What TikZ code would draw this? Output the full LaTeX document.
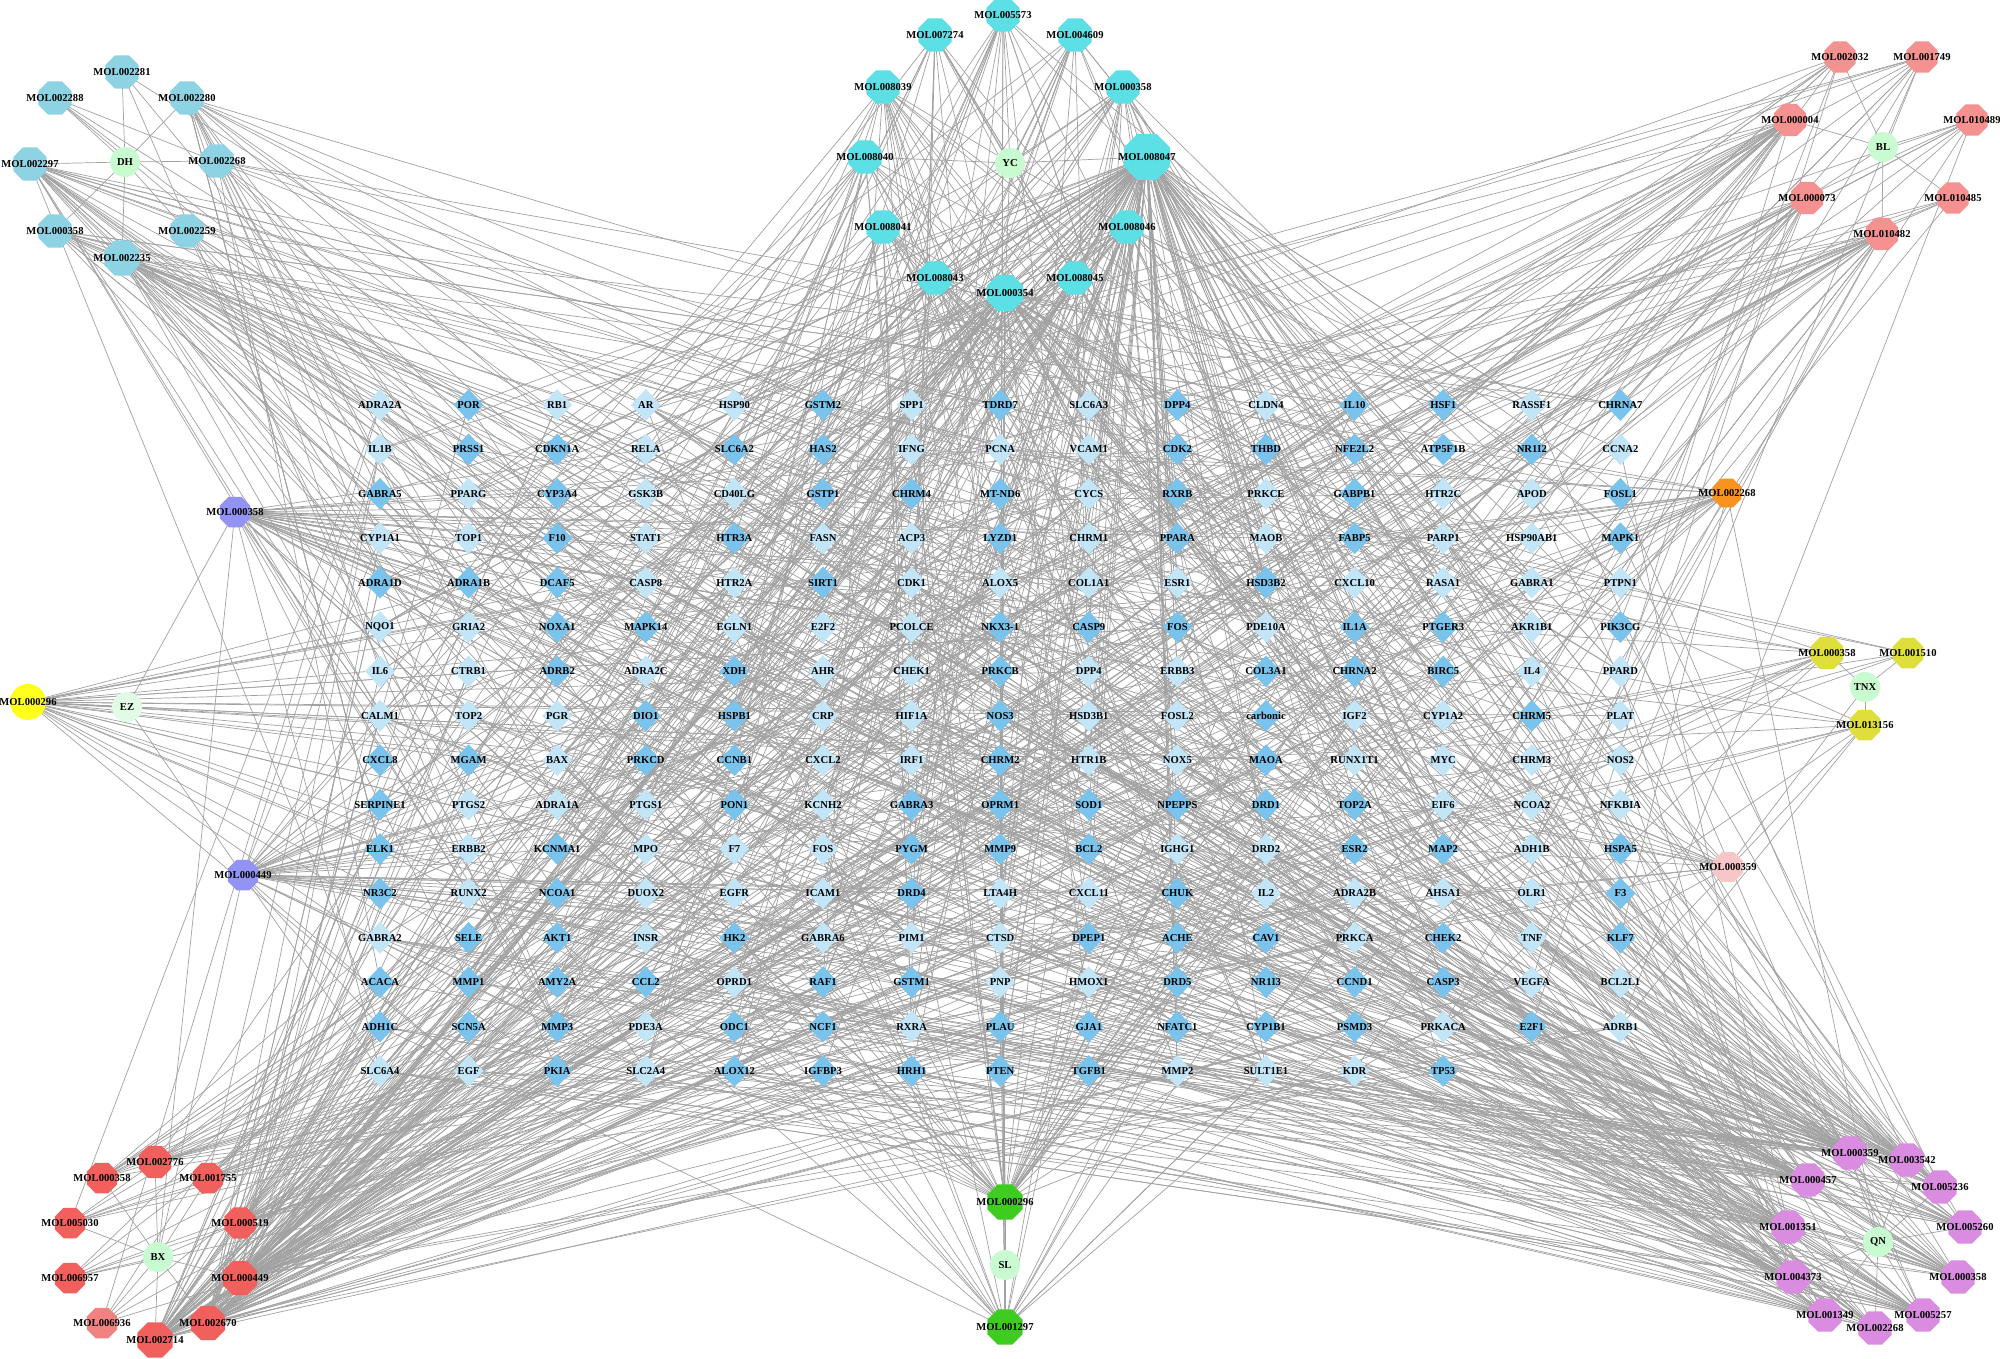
\documentclass[tikz,border=0pt]{standalone}
\usepackage{fontspec}
\setmainfont{Liberation Serif}
\usetikzlibrary{shapes.geometric}
\pgfdeclarelayer{bgl}
\pgfdeclarelayer{edges}
\pgfsetlayers{bgl,edges,main}
\definecolor{dkb}{HTML}{79C3EC}
\definecolor{ltb}{HTML}{C2E5F7}
\definecolor{herbc}{HTML}{C9FBD0}
\definecolor{herbf}{HTML}{E2FBE6}
\definecolor{tlc}{HTML}{8ED3E4}
\definecolor{cyc}{HTML}{5CE0E5}
\definecolor{salc}{HTML}{F59190}
\definecolor{purc}{HTML}{9393F5}
\definecolor{yelc}{HTML}{FFFF1E}
\definecolor{orc}{HTML}{F7931E}
\definecolor{olc}{HTML}{DEDE3C}
\definecolor{pkc}{HTML}{F8C6C8}
\definecolor{redc}{HTML}{F2605E}
\definecolor{redl}{HTML}{F08282}
\definecolor{grc}{HTML}{3FCC20}
\definecolor{vic}{HTML}{DA8DE0}
\definecolor{edgec}{HTML}{A2A2A2}
\tikzset{
  lbl/.style={font=\fontsize{10.6}{12}\selectfont\bfseries, inner sep=0pt, text=black},
  octn/.style={regular polygon, regular polygon sides=8, inner sep=0pt, draw=none},
  herbn/.style={circle, inner sep=0pt, minimum size=30pt, draw=none, fill=herbc},
  tgt/.style={diamond, inner sep=0pt, minimum width=30pt, minimum height=32pt, draw=none},
  edge/.style={draw=edgec, line width=0.7pt}
}
\newcommand\mylabellist{}
\newcommand\molnode[6]{%
  \node[octn, fill=#4, minimum size=#5] (#1) at (#2,#3) {};%
  \expandafter\gdef\expandafter\mylabellist\expandafter{\mylabellist\node[lbl] at (#1) {#6};}}
\newcommand\herbnode[5]{%
  \node[herbn, fill=#4] (#1) at (#2,#3) {};%
  \expandafter\gdef\expandafter\mylabellist\expandafter{\mylabellist\node[lbl] at (#1) {#5};}}
\newcommand\tgtlist{
ADRA2A,POR,RB1,AR,HSP90,GSTM2,SPP1,TDRD7,SLC6A3,DPP4,CLDN4,IL10,HSF1,RASSF1,CHRNA7,
IL1B,PRSS1,CDKN1A,RELA,SLC6A2,HAS2,IFNG,PCNA,VCAM1,CDK2,THBD,NFE2L2,ATP5F1B,NR1I2,CCNA2,
GABRA5,PPARG,CYP3A4,GSK3B,CD40LG,GSTP1,CHRM4,MT-ND6,CYCS,RXRB,PRKCE,GABPB1,HTR2C,APOD,FOSL1,
CYP1A1,TOP1,F10,STAT1,HTR3A,FASN,ACP3,LYZD1,CHRM1,PPARA,MAOB,FABP5,PARP1,HSP90AB1,MAPK1,
ADRA1D,ADRA1B,DCAF5,CASP8,HTR2A,SIRT1,CDK1,ALOX5,COL1A1,ESR1,HSD3B2,CXCL10,RASA1,GABRA1,PTPN1,
NQO1,GRIA2,NOXA1,MAPK14,EGLN1,E2F2,PCOLCE,NKX3-1,CASP9,FOS,PDE10A,IL1A,PTGER3,AKR1B1,PIK3CG,
IL6,CTRB1,ADRB2,ADRA2C,XDH,AHR,CHEK1,PRKCB,DPP4,ERBB3,COL3A1,CHRNA2,BIRC5,IL4,PPARD,
CALM1,TOP2,PGR,DIO1,HSPB1,CRP,HIF1A,NOS3,HSD3B1,FOSL2,carbonic,IGF2,CYP1A2,CHRM5,PLAT,
CXCL8,MGAM,BAX,PRKCD,CCNB1,CXCL2,IRF1,CHRM2,HTR1B,NOX5,MAOA,RUNX1T1,MYC,CHRM3,NOS2,
SERPINE1,PTGS2,ADRA1A,PTGS1,PON1,KCNH2,GABRA3,OPRM1,SOD1,NPEPPS,DRD1,TOP2A,EIF6,NCOA2,NFKBIA,
ELK1,ERBB2,KCNMA1,MPO,F7,FOS,PYGM,MMP9,BCL2,IGHG1,DRD2,ESR2,MAP2,ADH1B,HSPA5,
NR3C2,RUNX2,NCOA1,DUOX2,EGFR,ICAM1,DRD4,LTA4H,CXCL11,CHUK,IL2,ADRA2B,AHSA1,OLR1,F3,
GABRA2,SELE,AKT1,INSR,HK2,GABRA6,PIM1,CTSD,DPEP1,ACHE,CAV1,PRKCA,CHEK2,TNF,KLF7,
ACACA,MMP1,AMY2A,CCL2,OPRD1,RAF1,GSTM1,PNP,HMOX1,DRD5,NR1I3,CCND1,CASP3,VEGFA,BCL2L1,
ADH1C,SCN5A,MMP3,PDE3A,ODC1,NCF1,RXRA,PLAU,GJA1,NFATC1,CYP1B1,PSMD3,PRKACA,E2F1,ADRB1,
SLC6A4,EGF,PKIA,SLC2A4,ALOX12,IGFBP3,HRH1,PTEN,TGFB1,MMP2,SULT1E1,KDR,TP53}
\begin{document}
\begin{tikzpicture}[x=1pt,y=-1pt]
\begin{pgfonlayer}{bgl}
\fill[white] (0,0) rectangle (2000,1358);
\end{pgfonlayer}
\useasboundingbox (0,0) rectangle (2000,1358);
% ---------- target grid ----------
\pgfmathsetseed{2718}
\foreach \lab [count=\i] in \tgtlist {
  \pgfmathtruncatemacro\rr{int((\i-1)/15)}
  \pgfmathtruncatemacro\cc{mod(\i-1,15)}
  \pgfmathtruncatemacro\dk{random(0,9)}
  \ifnum\dk<5 \def\fc{dkb}\else\def\fc{ltb}\fi
  \node[tgt, fill=\fc] (t\i) at ({380+88.6*\cc},{405+44.4*\rr}) {};
}
% ---------- top-left (DH) ----------
\molnode{tl1}{122}{72}{tlc}{36pt}{MOL002281}
\molnode{tl2}{55}{98}{tlc}{36pt}{MOL002288}
\molnode{tl3}{187}{98}{tlc}{36pt}{MOL002280}
\molnode{tl5}{30}{164}{tlc}{36pt}{MOL002297}
\molnode{tl6}{217}{161}{tlc}{36pt}{MOL002268}
\molnode{tl7}{55}{231}{tlc}{36pt}{MOL000358}
\molnode{tl8}{187}{231}{tlc}{36pt}{MOL002259}
\molnode{tl9}{122}{258}{tlc}{38pt}{MOL002235}
\herbnode{hDH}{125}{162}{herbc}{DH}
% ---------- top-centre (YC) ----------
\molnode{tc1}{1003}{15}{cyc}{36pt}{MOL005573}
\molnode{tc2}{935}{35}{cyc}{36pt}{MOL007274}
\molnode{tc3}{1075}{35}{cyc}{36pt}{MOL004609}
\molnode{tc4}{883}{87}{cyc}{36pt}{MOL008039}
\molnode{tc5}{1123}{87}{cyc}{36pt}{MOL000358}
\molnode{tc6}{865}{157}{cyc}{36pt}{MOL008040}
\molnode{tc7}{1147}{157}{cyc}{50pt}{MOL008047}
\molnode{tc8}{883}{227}{cyc}{36pt}{MOL008041}
\molnode{tc9}{1127}{227}{cyc}{36pt}{MOL008046}
\molnode{tc10}{935}{278}{cyc}{36pt}{MOL008043}
\molnode{tc11}{1075}{278}{cyc}{36pt}{MOL008045}
\molnode{tc12}{1005}{293}{cyc}{39pt}{MOL000354}
\herbnode{hYC}{1010}{163}{herbc}{YC}
% ---------- top-right (BL) ----------
\molnode{tr1}{1840}{57}{salc}{34pt}{MOL002032}
\molnode{tr2}{1922}{57}{salc}{34pt}{MOL001749}
\molnode{tr3}{1790}{120}{salc}{35pt}{MOL000004}
\molnode{tr4}{1972}{120}{salc}{34pt}{MOL010489}
\molnode{tr5}{1807}{198}{salc}{35pt}{MOL000073}
\molnode{tr6}{1953}{198}{salc}{34pt}{MOL010485}
\molnode{tr7}{1882}{234}{salc}{35pt}{MOL010482}
\herbnode{hBL}{1883}{147}{herbc}{BL}
% ---------- left ----------
\molnode{lp1}{235}{512}{purc}{33pt}{MOL000358}
\node[circle, fill=yelc, minimum size=36pt, inner sep=0pt] (ly) at (28,702) {};
\molnode{lp2}{243}{875}{purc}{33pt}{MOL000449}
\herbnode{hEZ}{127}{707}{herbf}{EZ}
% ---------- right ----------
\molnode{ro}{1727}{493}{orc}{31pt}{MOL002268}
\molnode{ry1}{1827}{653}{olc}{35pt}{MOL000358}
\molnode{ry2}{1908}{653}{olc}{33pt}{MOL001510}
\molnode{ry3}{1865}{725}{olc}{33pt}{MOL013156}
\herbnode{hTNX}{1865}{687}{herbc}{TNX}
\molnode{rp}{1728}{867}{pkc}{32pt}{MOL000359}
% ---------- bottom-left (BX) ----------
\molnode{bl1}{155}{1162}{redc}{35pt}{MOL002776}
\molnode{bl2}{102}{1178}{redc}{33pt}{MOL000358}
\molnode{bl3}{208}{1178}{redc}{33pt}{MOL001755}
\molnode{bl4}{70}{1223}{redc}{33pt}{MOL005030}
\molnode{bl5}{240}{1223}{redc}{34pt}{MOL000519}
\molnode{bl6}{70}{1278}{redc}{33pt}{MOL006957}
\molnode{bl7}{240}{1278}{redc}{37pt}{MOL000449}
\molnode{bl8}{102}{1323}{redl}{33pt}{MOL006936}
\molnode{bl9}{208}{1323}{redc}{37pt}{MOL002670}
\molnode{bl10}{155}{1340}{redc}{38pt}{MOL002714}
\herbnode{hBX}{158}{1257}{herbc}{BX}
% ---------- bottom-centre (SL) ----------
\molnode{bg1}{1005}{1202}{grc}{38pt}{MOL000296}
\molnode{bg2}{1005}{1327}{grc}{38pt}{MOL001297}
\herbnode{hSL}{1005}{1265}{herbc}{SL}
% ---------- bottom-right (QN) ----------
\molnode{br1}{1850}{1153}{vic}{36pt}{MOL000359}
\molnode{br2}{1907}{1160}{vic}{36pt}{MOL003542}
\molnode{br3}{1808}{1180}{vic}{36pt}{MOL000457}
\molnode{br4}{1940}{1187}{vic}{36pt}{MOL005236}
\molnode{br5}{1788}{1227}{vic}{36pt}{MOL001351}
\molnode{br6}{1965}{1227}{vic}{36pt}{MOL005260}
\molnode{br7}{1793}{1277}{vic}{36pt}{MOL004373}
\molnode{br8}{1958}{1277}{vic}{36pt}{MOL000358}
\molnode{br9}{1825}{1315}{vic}{36pt}{MOL001349}
\molnode{br10}{1923}{1315}{vic}{36pt}{MOL005257}
\molnode{br11}{1875}{1328}{vic}{36pt}{MOL002268}
\herbnode{hQN}{1878}{1242}{herbc}{QN}
% ---------- labels ----------
\foreach \lab [count=\i] in \tgtlist { \node[lbl] at (t\i) {\lab}; }
\mylabellist
\node[lbl] at (ly) {MOL000296};
% ---------- edges ----------
\begin{pgfonlayer}{edges}
\foreach \h/\m in {hDH/tl1,hDH/tl2,hDH/tl3,hDH/tl5,hDH/tl6,hDH/tl7,hDH/tl8,hDH/tl9,
  hYC/tc1,hYC/tc2,hYC/tc3,hYC/tc4,hYC/tc5,hYC/tc6,hYC/tc7,hYC/tc8,hYC/tc9,hYC/tc10,hYC/tc11,hYC/tc12,
  hBL/tr1,hBL/tr2,hBL/tr3,hBL/tr4,hBL/tr5,hBL/tr6,hBL/tr7,
  hEZ/lp1,hEZ/ly,hEZ/lp2,lp1/hBX,lp2/hBX,
  hTNX/ry1,hTNX/ry2,hTNX/ry3,hTNX/rp,ro/hQN,
  hBX/bl1,hBX/bl2,hBX/bl3,hBX/bl4,hBX/bl5,hBX/bl6,hBX/bl7,hBX/bl8,hBX/bl9,hBX/bl10,
  hSL/bg1,hSL/bg2,
  hQN/br1,hQN/br2,hQN/br3,hQN/br4,hQN/br5,hQN/br6,hQN/br7,hQN/br8,hQN/br9,hQN/br10,hQN/br11}{
  \draw[edge] (\h.center) -- (\m.center);
}
\pgfmathsetseed{31415}
\foreach \n/\k in {tl1/3,tl2/4,tl3/18,tl5/25,tl6/8,tl7/15,tl8/8,tl9/25,
  tc1/18,tc2/15,tc3/15,tc4/20,tc5/22,tc6/18,tc7/130,tc8/20,tc9/35,tc10/15,tc11/15,tc12/60,
  tr1/10,tr2/10,tr3/28,tr4/8,tr5/18,tr6/5,tr7/25,
  lp1/45,ly/30,lp2/45,
  ro/22,ry1/12,ry2/5,ry3/10,rp/15,
  bl1/12,bl2/10,bl3/15,bl4/8,bl5/25,bl6/6,bl7/60,bl8/5,bl9/50,bl10/60,
  bg1/45,bg2/22,
  br1/45,br2/30,br3/35,br4/20,br5/30,br6/20,br7/25,br8/25,br9/20,br10/30,br11/20}{
  \foreach \j in {1,...,\k}{
    \pgfmathtruncatemacro\r{random(1,238)}
    \draw[edge] (\n.center) -- (t\r.center);
  }
}
\end{pgfonlayer}
\end{tikzpicture}
\end{document}
